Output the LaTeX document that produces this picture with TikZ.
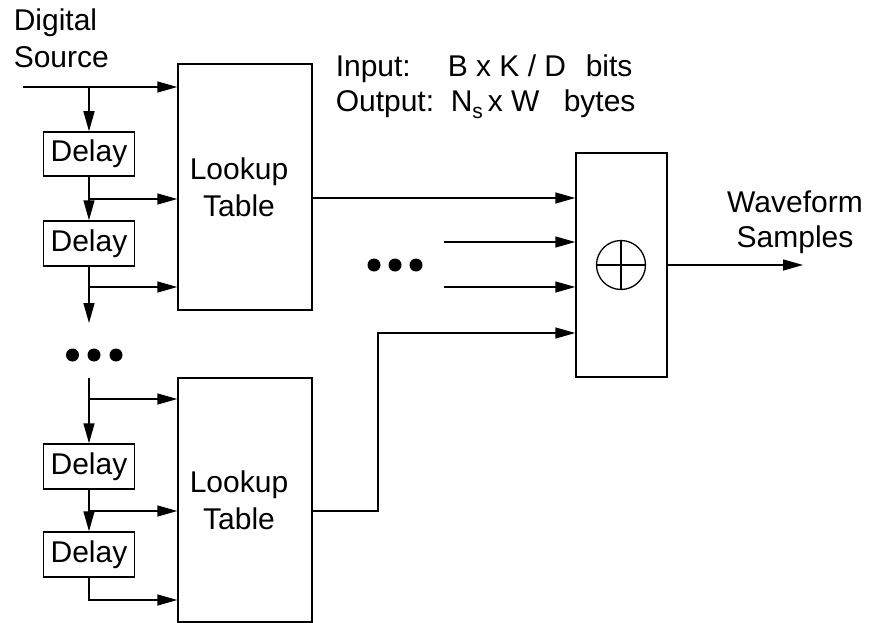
\documentclass[tikz,border=0pt]{standalone}
\usepackage{fontspec}
\setmainfont{Liberation Sans}
\usetikzlibrary{arrows.meta}
\begin{document}
\begin{tikzpicture}[x=1pt,y=-1pt, line width=1.5pt,
  >={Triangle[length=20pt,width=11pt]},
  box/.style={draw, line width=1.5pt, inner sep=0pt, font=\fontsize{30}{37}\selectfont, align=center},
  lbl/.style={inner sep=0pt, anchor=base west, font=\fontsize{30}{36}\selectfont},
  dotmark/.style={circle, fill, inner sep=0pt, minimum size=13pt}]
\useasboundingbox (0,0) rectangle (870,623);

% boxes
\node[box, minimum width=134pt, minimum height=246pt] (lut1) at (245,187) {Lookup\hspace*{12pt}\\Table\hspace*{12pt}};
\node[box, minimum width=134pt, minimum height=244pt] (lut2) at (245,500) {Lookup\hspace*{12pt}\\Table\hspace*{12pt}};
\node[box, minimum width=91pt, minimum height=44pt] (d1) at (89,154) {Delay};
\node[box, minimum width=91pt, minimum height=45pt] (d2) at (89,243.5) {Delay};
\node[box, minimum width=91pt, minimum height=45pt] (d3) at (89,466.5) {Delay};
\node[box, minimum width=91pt, minimum height=45pt] (d4) at (89,554.5) {Delay};
\node[box, minimum width=91pt, minimum height=224pt] (sum) at (621.5,265) {};
\node[circle, draw, line width=1.3pt, minimum size=49pt, inner sep=0pt] (plus) at (621,265) {};
\draw[line width=1.3pt] (plus.north) -- (plus.south) (plus.west) -- (plus.east);

% coordinates
\coordinate (src) at (23,87);
\coordinate (j0) at (89,87);
\coordinate (j1) at (89,199);
\coordinate (j2) at (89,287);
\coordinate (e1) at (89,323);
\coordinate (s3) at (89,378);
\coordinate (j3) at (89,399);
\coordinate (j4) at (89,511);
\coordinate (j5) at (89,600);
\coordinate (q1) at (312,198);
\coordinate (a1) at (444,242);
\coordinate (a2) at (444,287);
\coordinate (k1) at (378,511);
\coordinate (k2) at (378,333);
\coordinate (out) at (803,265);

% left chain
\draw[->] (src) -- (lut1.west |- src);
\draw[->] (j0) -- (d1.north);
\draw[->] (d1.south) -- (d2.north);
\draw[->] (j1) -- (lut1.west |- j1);
\draw[->] (d2.south) -- (e1);
\draw[->] (j2) -- (lut1.west |- j2);
\draw[->] (s3) -- (d3.north);
\draw[->] (j3) -- (lut2.west |- j3);
\draw[->] (d3.south) -- (d4.north);
\draw[->] (j4) -- (lut2.west |- j4);
\draw[->] (d4.south) -- (j5) -- (lut2.west |- j5);

% into summer
\draw[->] (q1) -- (sum.west |- q1);
\draw[->] (a1) -- (sum.west |- a1);
\draw[->] (a2) -- (sum.west |- a2);
\draw[->] (lut2.east |- k1) -- (k1) -- (k2) -- (sum.west |- k2);
\draw[->] (sum.east |- plus) -- (out);

% dots
\node[dotmark] (ld1) at (72.5,355) {};
\node[dotmark] (ld2) at (94,355) {};
\node[dotmark] (ld3) at (116,355) {};
\node[dotmark] (rd1) at (374,265) {};
\node[dotmark] (rd2) at (395,265) {};
\node[dotmark] (rd3) at (416,265) {};

% labels
\node[lbl] (t1) at (13,31) {Digital};
\node[lbl] (t2) at (13,68) {Source};
\node[lbl] (t3) at (335,77) {Input:};
\node[lbl] (t4) at (447,77) {B x K / D};
\node[lbl] (t5) at (585,77) {bits};
\node[lbl] (t6) at (335,112) {Output:};
\node[lbl] (t7) at (450,112) {N\raisebox{-0.22em}{\fontsize{21}{21}\selectfont s}\,x W};
\node[lbl] (t8) at (563,112) {bytes};
\node[lbl, anchor=base] (t9) at (795,212) {Waveform};
\node[lbl, anchor=base] (t10) at (795,247) {Samples};
\end{tikzpicture}
\end{document}
